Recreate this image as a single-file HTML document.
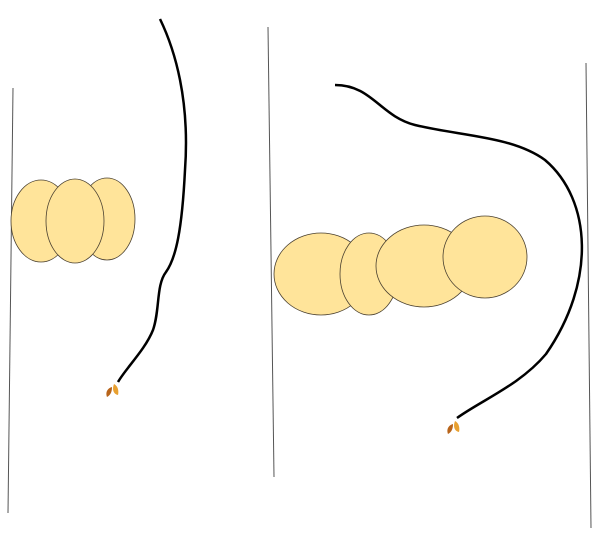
<!DOCTYPE html>
<html><head><meta charset="utf-8"><style>html,body{margin:0;padding:0;background:#fff;}svg{display:block}</style></head>
<body>
<svg width="614" height="542" viewBox="0 0 614 542" xmlns="http://www.w3.org/2000/svg">
  <g stroke="#555" stroke-width="1">
    <line x1="13" y1="88" x2="8" y2="513"/>
    <line x1="268" y1="27" x2="274" y2="477"/>
    <line x1="586" y1="63" x2="591" y2="528"/>
  </g>
  <g fill="#ffe49a" stroke="#4a4030" stroke-width="0.8">
    <ellipse cx="41" cy="221" rx="30" ry="41"/>
    <ellipse cx="107" cy="219" rx="28" ry="41"/>
    <ellipse cx="75" cy="221" rx="29" ry="42"/>
  </g>
  <g fill="#ffe49a" stroke="#4a4030" stroke-width="0.8">
    <ellipse cx="321" cy="274" rx="47" ry="41"/>
    <ellipse cx="369" cy="274" rx="29" ry="41"/>
    <ellipse cx="424" cy="266" rx="48" ry="41"/>
    <ellipse cx="485" cy="257" rx="42" ry="41"/>
  </g>
  <path d="M160,19 C175,50 190,100 185,170 C182,230 176,258 166,272 C156,285 160,310 153,330 C145,350 126,368 118,382" fill="none" stroke="#000" stroke-width="2.5"/>
  <path d="M335,85 C372,85 380,116 415,125 C460,136 512,136 545,160 C592,200 596,282 546,354 C520,385 482,400 457,418" fill="none" stroke="#000" stroke-width="2.5"/>
  <g>
    <path d="M107,397 C105,392 108,388 112,387 C112,391 111,395 107,397Z" fill="#b8641a"/>
    <path d="M118,395 C113,394 112,389 114,384 C118,386 119,391 118,395Z" fill="#e8a030"/>
  </g>
  <g>
    <path d="M448,434 C446,429 449,425 453,424 C453,428 452,432 448,434Z" fill="#b8641a"/>
    <path d="M459,432 C454,431 453,426 455,421 C459,423 460,428 459,432Z" fill="#e8a030"/>
  </g>
</svg>
</body></html>
